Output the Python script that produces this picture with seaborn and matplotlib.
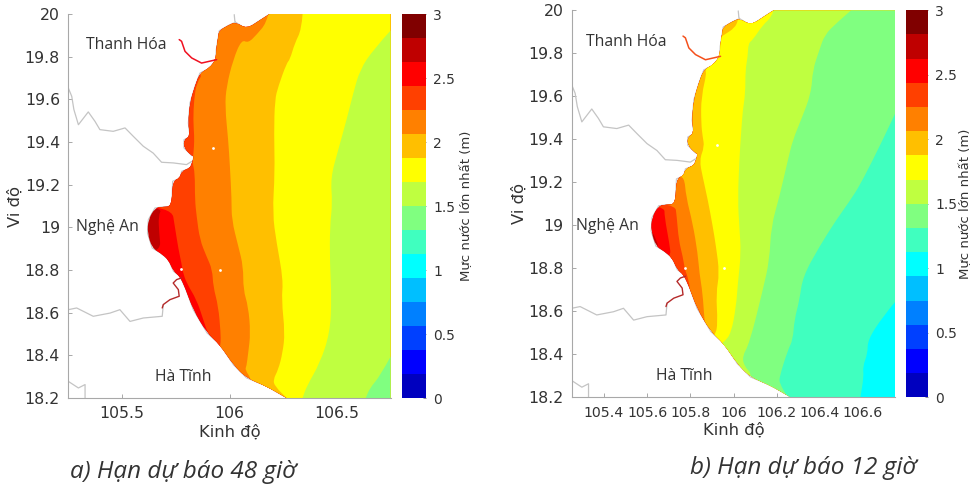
import numpy as np
import matplotlib
matplotlib.use("Agg")
import matplotlib.pyplot as plt
from matplotlib.colors import ListedColormap
from matplotlib.patches import PathPatch
from matplotlib.path import Path
import seaborn as sns

# bang mau 16 muc, 0 -> 3 m
mau = ["#0000BF", "#0000FF", "#0040FF", "#0080FF", "#00BFFF", "#00FFFF", "#40FFBF", "#80FF80",
       "#BFFF40", "#FFFF00", "#FFBF00", "#FF8000", "#FF4000", "#FF0000", "#BF0000", "#800000"]
muc_cbar = [0, 0.5, 1, 1.5, 2, 2.5, 3]

# duong bo (lon, lat) tu bac xuong nam
bo_lon = [106.187, 106.145, 106.080, 106.028, 105.995, 105.952, 105.948, 105.938, 105.936, 105.907,
          105.862, 105.839, 105.816, 105.808, 105.816, 105.788, 105.788, 105.824, 105.835, 105.825,
          105.816, 105.777, 105.769, 105.735, 105.731, 105.690, 105.653, 105.622, 105.618, 105.640,
          105.678, 105.716, 105.739, 105.769, 105.794, 105.831, 105.895, 105.955, 106.018, 106.079,
          106.172, 106.266]
bo_lat = [20.0, 19.973, 19.930, 19.962, 19.947, 19.922, 19.895, 19.833, 19.786, 19.747,
          19.723, 19.661, 19.584, 19.489, 19.426, 19.411, 19.372, 19.336, 19.333, 19.30,
          19.278, 19.263, 19.231, 19.216, 19.098, 19.096, 19.091, 19.036, 18.973, 18.903,
          18.88, 18.848, 18.794, 18.770, 18.716, 18.614, 18.505, 18.45, 18.356, 18.294,
          18.255, 18.2]

# ranh gioi tinh
ranh1_lon = [105.25, 105.266, 105.276, 105.297, 105.343, 105.374, 105.397, 105.459, 105.514, 105.552,
             105.599, 105.645, 105.684, 105.738, 105.80, 105.824]
ranh1_lat = [19.653, 19.614, 19.552, 19.481, 19.541, 19.497, 19.458, 19.45, 19.466, 19.427,
             19.38, 19.348, 19.305, 19.302, 19.294, 19.309]
ranh2_lon = [105.25, 105.289, 105.366, 105.444, 105.49, 105.537, 105.599, 105.687, 105.692]
ranh2_lat = [18.614, 18.622, 18.583, 18.598, 18.614, 18.559, 18.575, 18.583, 18.638]
ranh3_lon = [105.25, 105.297, 105.328, 105.328]
ranh3_lat = [18.278, 18.247, 18.263, 18.2]
ranh4_lon = [106.022, 106.025, 106.028]
ranh4_lat = [19.997, 19.966, 19.962]

# song
song1_lon = [105.766, 105.777, 105.793, 105.824, 105.87, 105.94]
song1_lat = [19.88, 19.872, 19.825, 19.794, 19.77, 19.786]
song2_lon = [105.777, 105.754, 105.738, 105.762, 105.766, 105.723, 105.692, 105.687]
song2_lat = [18.763, 18.755, 18.739, 18.708, 18.677, 18.661, 18.638, 18.622]

# dao nho
dao_lon = [105.922, 105.958, 105.775]
dao_lat = [19.373, 18.801, 18.803]

# duong dong muc - hinh a, moi duong: chi so mau phia dong, lon, lat
a_muc = [13, 12, 11, 10, 9, 8, 7]
a_lon = [
    [105.40, 105.40, 105.687, 105.669, 105.673, 105.681, 105.55, 105.40],
    [105.40, 105.40, 105.731, 105.746, 105.762, 105.777, 105.782, 105.80, 105.847, 105.878, 105.901,
     105.963, 105.90],
    [105.40, 105.707, 105.881, 105.847, 105.835, 105.831, 105.836, 105.835, 105.831, 105.828, 105.839,
     105.839, 105.847, 105.862, 105.893, 105.92, 105.924, 105.948, 105.959, 105.959, 105.955, 105.90],
    [106.18, 106.172, 106.126, 106.087, 106.056, 106.017, 105.986, 105.979, 105.994, 106.002, 106.01,
     106.01, 106.041, 106.064, 106.064, 106.087, 106.098, 106.087, 106.079, 106.072, 106.103, 106.103],
    [106.34, 106.335, 106.304, 106.281, 106.266, 106.227, 106.211, 106.207, 106.211, 106.20, 106.219,
     106.25, 106.242, 106.258, 106.247, 106.227, 106.203, 106.211, 106.266],
    [106.75, 106.669, 106.607, 106.576, 106.545, 106.506, 106.47, 106.479, 106.467, 106.467, 106.475,
     106.467, 106.421, 106.359, 106.34],
    [106.75, 106.70, 106.653, 106.634],
]
a_lat = [
    [20.0, 19.11, 19.095, 19.052, 18.973, 18.888, 18.87, 18.2],
    [20.0, 19.11, 19.095, 19.002, 18.90, 18.83, 18.794, 18.739, 18.661, 18.567, 18.497, 18.442, 18.2],
    [20.0, 19.747, 19.727, 19.677, 19.598, 19.505, 19.427, 19.38, 19.333, 19.302, 19.255,
     19.13, 19.052, 18.942, 18.864, 18.802, 18.723, 18.63, 18.505, 18.458, 18.442, 18.2],
    [20.0, 19.958, 19.903, 19.864, 19.88, 19.786, 19.661, 19.567, 19.411, 19.286, 19.13,
     19.036, 18.911, 18.817, 18.708, 18.63, 18.505, 18.411, 18.348, 18.333, 18.286, 18.2],
    [20.0, 19.927, 19.864, 19.786, 19.77, 19.661, 19.598, 19.442, 19.255, 19.067, 18.927,
     18.755, 18.661, 18.505, 18.411, 18.333, 18.286, 18.255, 18.2],
    [19.923, 19.833, 19.739, 19.63, 19.505, 19.364, 19.231, 19.114, 19.005, 18.833, 18.661,
     18.505, 18.364, 18.255, 18.2],
    [18.395, 18.302, 18.247, 18.2],
]

# duong dong muc - hinh b
b_muc = [13, 12, 11, 10, 9, 8, 7, 6, 5]
b_lon = [
    [105.40, 105.45, 105.621, 105.641, 105.656, 105.50, 105.40],
    [105.40, 105.40, 105.68, 105.68, 105.703, 105.711, 105.60, 105.50],
    [105.40, 105.40, 105.729, 105.737, 105.746, 105.765, 105.775, 105.788, 105.803, 105.70, 105.60],
    [105.40, 105.45, 105.734, 105.772, 105.78, 105.811, 105.834, 105.842, 105.857, 105.865, 105.873,
     105.80, 105.70],
    [106.027, 106.023, 106.004, 105.958, 105.857, 105.842, 105.881, 105.85, 105.85, 105.857, 105.865,
     105.842, 105.857, 105.881, 105.904, 105.919, 105.935, 105.919, 105.927, 105.916, 105.85, 105.75],
    [106.185, 106.179, 106.136, 106.089, 106.069, 106.066, 106.055, 106.055, 106.043, 106.035, 106.027,
     106.02, 106.027, 106.035, 106.02, 106.012, 105.989, 105.958, 105.942, 105.90, 105.90],
    [106.545, 106.476, 106.422, 106.398, 106.367, 106.36, 106.313, 106.275, 106.252, 106.213, 106.174,
     106.167, 106.136, 106.074, 106.04, 106.051, 106.082, 106.074, 106.074],
    [106.75, 106.692, 106.599, 106.553, 106.476, 106.398, 106.321, 106.306, 106.282, 106.275, 106.252,
     106.213, 106.213, 106.252],
    [106.75, 106.692, 106.622, 106.622, 106.599, 106.604, 106.588],
]
b_lat = [
    [20.0, 18.98, 18.978, 18.932, 18.893, 18.87, 18.2],
    [20.0, 19.11, 19.091, 19.04, 18.916, 18.847, 18.80, 18.2],
    [20.0, 19.12, 19.102, 19.04, 18.932, 18.854, 18.792, 18.761, 18.684, 18.60, 18.2],
    [20.0, 19.22, 19.226, 19.226, 19.133, 19.009, 18.87, 18.777, 18.684, 18.56, 18.521,
     18.40, 18.2],
    [20.0, 19.955, 19.916, 19.888, 19.815, 19.738, 19.73, 19.598, 19.474, 19.412, 19.366,
     19.304, 19.226, 19.118, 18.994, 18.901, 18.777, 18.684, 18.544, 18.49, 18.40, 18.2],
    [20.0, 19.971, 19.932, 19.862, 19.847, 19.785, 19.722, 19.614, 19.536, 19.428, 19.304,
     19.118, 18.994, 18.87, 18.73, 18.622, 18.498, 18.459, 18.451, 18.30, 18.2],
    [20.0, 19.94, 19.885, 19.815, 19.722, 19.614, 19.49, 19.397, 19.304, 19.133, 18.994,
     18.839, 18.699, 18.451, 18.389, 18.343, 18.312, 18.281, 18.2],
    [19.521, 19.397, 19.211, 19.133, 19.025, 18.901, 18.761, 18.653, 18.56, 18.467, 18.42,
     18.296, 18.265, 18.2],
    [18.645, 18.575, 18.467, 18.405, 18.343, 18.296, 18.2],
]

a_xticks = [105.5, 106, 106.5]
b_xticks = [105.4, 105.6, 105.8, 106, 106.2, 106.4, 106.6]
yticks = [18.2, 18.4, 18.6, 18.8, 19, 19.2, 19.4, 19.6, 19.8, 20]
tinh = ["Thanh Hóa", "Nghệ An", "Hà Tĩnh"]
a_tinh_lon = [105.518, 105.431, 105.785]
a_tinh_lat = [19.853, 19.0, 18.30]
b_tinh_lon = [105.505, 105.417, 105.772]
b_tinh_lat = [19.851, 18.997, 18.30]

XMIN, XMAX = 105.25, 106.75
YMIN, YMAX = 18.2, 20.0
W, H = 972, 486
VIEN = "#a8a8a8"
CHU = "#333333"


def nhan(v):
    return f"{v:g}"


def vung_dong(xs, ys):
    # vung phia dong cua mot duong, canh bo tron bang duong cong bac 2
    verts = [(xs[0], ys[0])]
    codes = [Path.MOVETO]
    for i in range(1, len(xs) - 1):
        verts += [(xs[i], ys[i]), ((xs[i] + xs[i + 1]) / 2, (ys[i] + ys[i + 1]) / 2)]
        codes += [Path.CURVE3, Path.CURVE3]
    verts += [(xs[-1], ys[-1]), (XMAX, YMIN), (XMAX, YMAX), (xs[0], ys[0])]
    codes += [Path.LINETO, Path.LINETO, Path.LINETO, Path.CLOSEPOLY]
    return Path(verts, codes)


def ve_hinh(fig, khung, khung_cb, muc, lons, lats, xticks, c_xtick, tinh_lon, tinh_lat, song1_mau, nhan_cb_x, nhan_cb_y):
    x0, x1, y0, y1 = khung
    ax = fig.add_axes([x0 / W, 1 - y1 / H, (x1 - x0) / W, (y1 - y0) / H])

    # vung bien, mau cao nhat nam sat bo
    bien = PathPatch(vung_dong(bo_lon, bo_lat), facecolor=mau[14], lw=0, zorder=1)
    ax.add_patch(bien)
    for k, xs, ys in zip(muc, lons, lats):
        p = PathPatch(vung_dong(xs, ys), facecolor=mau[k], lw=0, zorder=2)
        ax.add_patch(p)
        p.set_clip_path(bien)

    ax.scatter(dao_lon, dao_lat, s=4, color="white", marker="o", lw=0, zorder=3)
    ax.plot(bo_lon, bo_lat, color="#c4c4c4", lw=0.7, zorder=0.5)
    for xs, ys in [(ranh1_lon, ranh1_lat), (ranh2_lon, ranh2_lat), (ranh3_lon, ranh3_lat), (ranh4_lon, ranh4_lat)]:
        ax.plot(xs, ys, color="#c4c4c4", lw=0.9, zorder=1.5)
    ax.plot(song1_lon, song1_lat, color=song1_mau, lw=1.1, zorder=3)
    ax.plot(song2_lon, song2_lat, color="#b52a2a", lw=1.0, zorder=3)

    for t, x, y in zip(tinh, tinh_lon, tinh_lat):
        ax.text(x, y, t, ha="center", va="center", fontsize=11.3, color=CHU, family="Open Sans")

    ax.set_xlim(XMIN, XMAX)
    ax.set_ylim(YMIN, YMAX)
    ax.set_xticks(xticks)
    ax.set_xticklabels([nhan(v) for v in xticks])
    ax.set_yticks(yticks)
    ax.set_yticklabels([nhan(v) for v in yticks])
    ax.tick_params(direction="in", length=3, width=0.7, color=VIEN, labelsize=11.3, labelcolor=CHU, pad=6)
    ax.tick_params(axis="x", labelsize=c_xtick)
    ax.set_xlabel("Kinh độ", fontsize=11.8, color=CHU, labelpad=2)
    ax.set_ylabel("Vi độ", fontsize=11.8, color=CHU, labelpad=1)
    sns.despine(ax=ax)
    for s in ["left", "bottom"]:
        ax.spines[s].set_color(VIEN)
        ax.spines[s].set_linewidth(0.8)

    # thanh mau
    c0, c1 = khung_cb
    cax = fig.add_axes([c0 / W, 1 - y1 / H, (c1 - c0) / W, (y1 - y0) / H])
    sns.heatmap(np.arange(len(mau))[::-1].reshape(-1, 1), cmap=ListedColormap(mau), cbar=False,
                ax=cax, xticklabels=False, yticklabels=False)
    cax.yaxis.tick_right()
    cax.set_yticks([(3 - v) / 3 * len(mau) for v in muc_cbar])
    cax.set_yticklabels([nhan(v) for v in muc_cbar], rotation=0)
    cax.tick_params(axis="y", direction="in", length=2.5, width=0.6, color="#777777", labelsize=10,
                    labelcolor=CHU, pad=5)
    fig.text(nhan_cb_x / W, 1 - nhan_cb_y / H, "Mực nước lớn nhất (m)", rotation=90, ha="center",
             va="center", fontsize=9.5, color=CHU)
    return ax


sns.set_theme(style="ticks")
plt.rcParams["font.family"] = ["DejaVu Sans"]

fig = plt.figure(figsize=(W / 100, H / 100), dpi=100)
ve_hinh(fig, (68.3, 390.7, 14, 398), (402.3, 426.3), a_muc, a_lon, a_lat, a_xticks, 11.3, a_tinh_lon, a_tinh_lat,
        "#f01020", 467, 206)
ve_hinh(fig, (571.7, 895.3, 10.3, 397.3), (905.7, 928), b_muc, b_lon, b_lat, b_xticks, 10.2, b_tinh_lon, b_tinh_lat,
        "#f4501c", 966, 204)

fig.text(183 / W, 1 - 472 / H, "a) Hạn dự báo 48 giờ", ha="center", va="center", fontsize=17.5,
         style="italic", color=CHU, family="Open Sans")
fig.text(803 / W, 1 - 468 / H, "b) Hạn dự báo 12 giờ", ha="center", va="center", fontsize=17.5,
         style="italic", color=CHU, family="Open Sans")

fig.savefig("out.png", dpi=100)
